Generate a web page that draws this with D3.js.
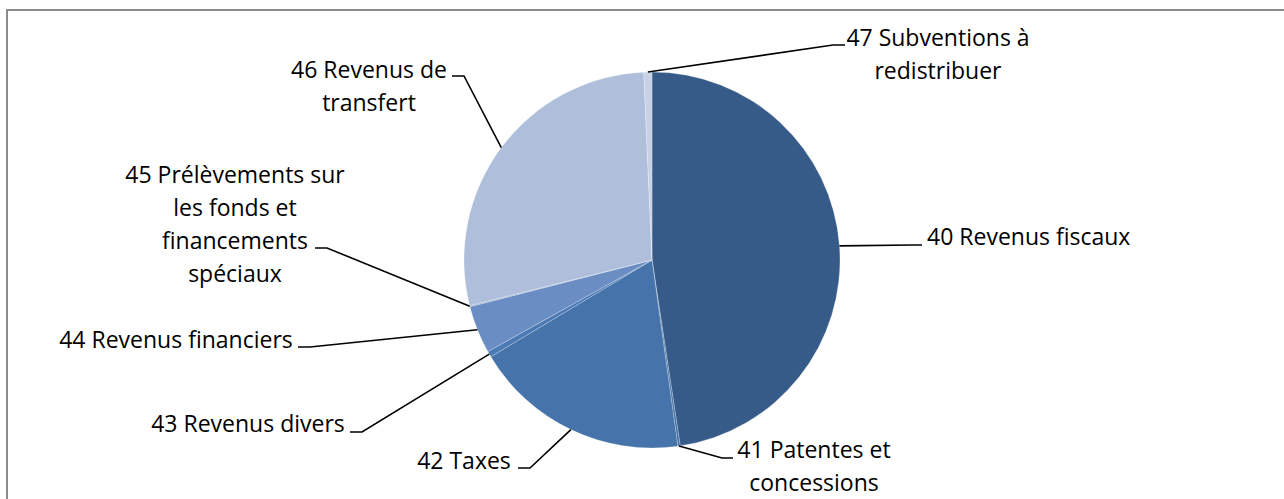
<!DOCTYPE html>
<html lang="fr">
<head>
    <meta charset="UTF-8">
    <title>Revenus</title>
    <style>
        html,
        body {
            margin: 0;
            height: 100%;
            overflow: hidden;
            background: #fff;
        }
    </style>
    <script src="https://d3js.org/d3.v7.min.js"></script>
</head>
<body>
    <svg id="svg"></svg>
    <script>
        // données (parts en %)
        const categories = [
            '40 Revenus fiscaux',
            '41 Patentes et concessions',
            '42 Taxes',
            '43 Revenus divers',
            '44 Revenus financiers',
            '45 Prélèvements sur les fonds et financements spéciaux',
            '46 Revenus de transfert',
            '47 Subventions à redistribuer'
        ];
        const values = [47.6, 0.2, 18.6, 0.5, 4.1, 0.1, 28.2, 0.7];
        const colors = ['#375b88', '#4170a6', '#4674aa', '#4b7ab5', '#6a8dc4', '#8ea8d2', '#afbfdb', '#c7d2e7'];

        // placement des étiquettes (texte + ligne de rappel)
        const labelLayout = [
            { lines: ['40 Revenus fiscaux'], x: 927, y: 245, anchor: 'start', elbow: [912, 245], stub: 922 },
            { lines: ['41 Patentes et', 'concessions'], x: 814, y: 458, anchor: 'middle', elbow: [722, 458], stub: 733 },
            { lines: ['42 Taxes'], x: 464, y: 469, anchor: 'middle', elbow: [530, 468], stub: 518 },
            { lines: ['43 Revenus divers'], x: 248, y: 432, anchor: 'middle', elbow: [362, 432], stub: 350 },
            { lines: ['44 Revenus financiers'], x: 176, y: 348, anchor: 'middle', elbow: [310, 347], stub: 298 },
            { lines: ['45 Prélèvements sur', 'les fonds et', 'financements', 'spéciaux'], x: 235, y: 183, anchor: 'middle', elbow: [327, 248], stub: 315 },
            { lines: ['46 Revenus de', 'transfert'], x: 369, y: 78, anchor: 'middle', elbow: [464, 76], stub: 452 },
            { lines: ['47 Subventions à', 'redistribuer'], x: 938, y: 46, anchor: 'middle', elbow: [833, 45], stub: 845 }
        ];

        const width = 1284;
        const height = 499;
        const svg = d3.select('#svg').attr('width', width).attr('height', height);

        svg.append('rect')
            .attr('x', 7).attr('y', 10)
            .attr('width', 1400).attr('height', 600)
            .attr('fill', '#fff')
            .attr('stroke', '#8c8c8c')
            .attr('stroke-width', 2);

        const cx = 652, cy = 260, radius = 188;
        const g = svg.append('g').attr('transform', `translate(${cx},${cy})`);

        const data = categories.map((c, i) => ({ name: c, value: values[i], i }));
        const pie = d3.pie().sort(null).value(d => d.value).startAngle(0).endAngle(2 * Math.PI);
        const arcs = pie(data);
        const arc = d3.arc().innerRadius(0).outerRadius(radius);

        g.selectAll('.slice').data(arcs).join('path').attr('class', 'slice')
            .attr('d', arc)
            .attr('fill', d => colors[d.data.i])
            .attr('stroke', 'rgba(255,255,255,0.35)')
            .attr('stroke-width', 0.7);

        // lignes de rappel
        const edgePoint = d => {
            const a = (d.startAngle + d.endAngle) / 2;
            return [cx + radius * Math.sin(a), cy - radius * Math.cos(a)];
        };
        svg.selectAll('.leader').data(arcs).join('polyline').attr('class', 'leader')
            .attr('points', d => {
                const L = labelLayout[d.index];
                const p = edgePoint(d);
                return [p, L.elbow, [L.stub, L.elbow[1]]].map(q => q.join(',')).join(' ');
            })
            .attr('fill', 'none')
            .attr('stroke', '#000')
            .attr('stroke-width', 1.6);

        const lineH = 33;
        svg.selectAll('.label').data(arcs).join('text').attr('class', 'label')
            .attr('font-family', '"Open Sans", sans-serif')
            .attr('font-size', 23)
            .attr('fill', '#000')
            .attr('text-anchor', d => labelLayout[d.index].anchor)
            .each(function (d) {
                const L = labelLayout[d.index];
                d3.select(this).selectAll('tspan').data(L.lines).join('tspan')
                    .attr('x', L.x)
                    .attr('y', (t, k) => L.y + k * lineH)
                    .text(t => t);
            });
    </script>
</body>
</html>
